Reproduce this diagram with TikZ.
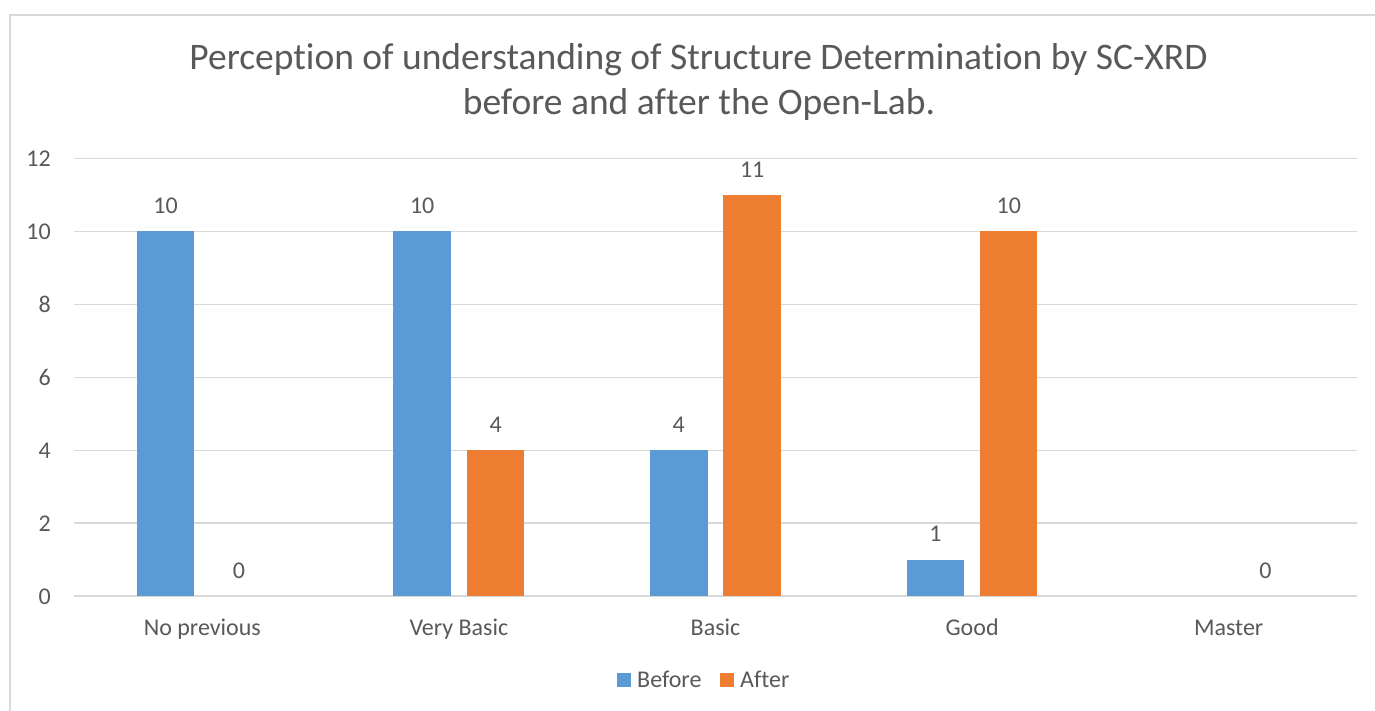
\documentclass[tikz,border=0pt]{standalone}
\usepackage{fontspec}
\setmainfont{Carlito}[Ligatures={NoCommon}]
\definecolor{txtc}{HTML}{595959}
\definecolor{gridc}{HTML}{D9D9D9}
\definecolor{bblue}{HTML}{5B9BD5}
\definecolor{borange}{HTML}{ED7D31}
\begin{document}
\begin{tikzpicture}[x=1pt,y=-1pt,
  lbl/.style={font=\fontsize{24}{28}\selectfont, text=txtc, inner sep=0pt},
  ttl/.style={font=\fontsize{37.5}{44}\selectfont, text=txtc, inner sep=0pt},
  gline/.style={draw=gridc, line width=1.3pt},
  beforebar/.style={fill=bblue},
  afterbar/.style={fill=borange}]
\useasboundingbox (0,0) rectangle (1375,711);
\fill[white] (0,0) rectangle (1375,711);
% chart frame
\draw[gline] (10,711) -- (10,15) -- (1375,15);
% title
\node[ttl, anchor=base] (title1) at (698.5,70) {Perception of understanding of Structure Determination by SC-XRD};
\node[ttl, anchor=base] (title2) at (699,114.3) {before and after the Open-Lab.};
% gridlines and y labels
\foreach \v in {0,2,...,12} {
  \draw[gline] (74,{596-36.45*\v}) -- (1357,{596-36.45*\v});
  \node[lbl, anchor=base east] (y\v) at (51,{596-36.45*\v+8}) {\v};
}
% bars
\foreach \i/\b/\a in {1/10/0, 2/10/4, 3/4/11, 4/1/10, 5/0/0} {
  \pgfmathsetmacro{\c}{74+(\i-0.5)*256.6}
  \ifnum\b>0 \fill[beforebar] ({\c-65.6},596) rectangle ({\c-7.9},{596-36.45*\b}); \fi
  \ifnum\a>0 \fill[afterbar] ({\c+7.8},596) rectangle ({\c+65.3},{596-36.45*\a}); \fi
}
% data labels
\foreach \i/\s/\v in {1/-1/10, 1/1/0, 2/-1/10, 2/1/4, 3/-1/4, 3/1/11, 4/-1/1, 4/1/10, 5/1/0} {
  \pgfmathsetmacro{\c}{74+(\i-0.5)*256.6+\s*36.7}
  \node[lbl, anchor=base] (d\i\s) at (\c,{596-36.45*\v-18}) {\v};
}
% category labels
\foreach \i/\t in {1/No previous, 2/Very Basic, 3/Basic, 4/Good, 5/Master} {
  \pgfmathsetmacro{\c}{74+(\i-0.5)*256.6}
  \node[lbl, anchor=base] (cat\i) at (\c,635) {\t};
}
% legend
\fill[beforebar] (617,673) rectangle (631,687);
\node[lbl, anchor=base west] (legB) at (637,687) {Before};
\fill[afterbar] (720,673) rectangle (734,687);
\node[lbl, anchor=base west] (legA) at (740,687) {After};
\end{tikzpicture}
\end{document}
